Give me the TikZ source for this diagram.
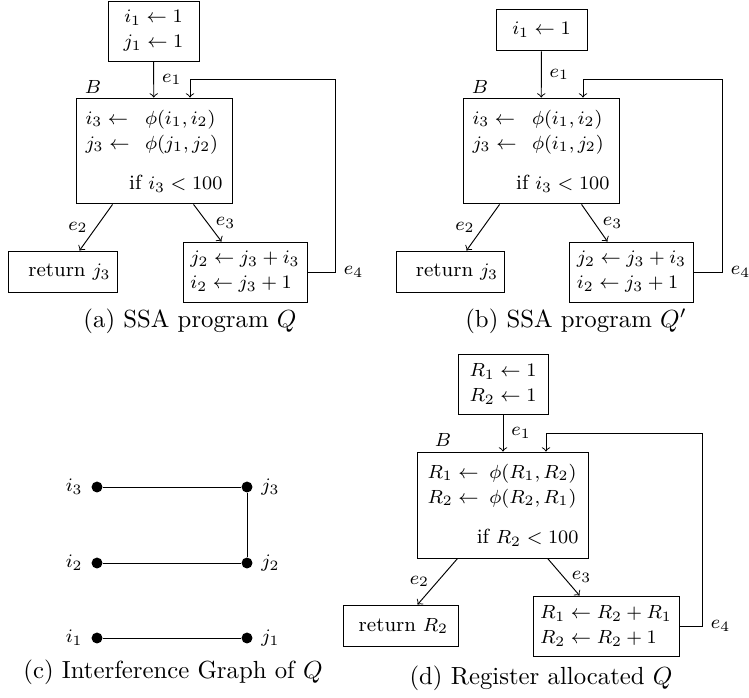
\RequirePackage{fix-cm}
\documentclass[tikz,border=0pt]{standalone}
\usetikzlibrary{calc}
\DeclareMathSizes{8.6}{8}{6}{5}
\newcommand{\PhiRow}[3][25pt]{\makebox[#1][l]{$#2\leftarrow$}$\phi(#3)$}
\newcommand{\DiagFont}{\fontsize{8.6}{10.5}\selectfont}
\tikzset{
  blockbox/.style={draw, inner sep=0pt, font=\DiagFont},
  graphdot/.style={circle, fill, inner sep=0pt, minimum size=4.6pt},
  elabel/.style={font=\DiagFont},
  subcap/.style={font=\fontsize{10.4}{12.5}\selectfont},
  every label/.style={font=\DiagFont},
}

\begin{document}
\begin{tikzpicture}[x=0.42pt, y=-0.42pt, >=to]
\useasboundingbox (0,0) rectangle (749,698);

% (a) SSA program Q
\node[blockbox, minimum width=38.2pt, minimum height=25.2pt, align=center] (a-init) at (153.5,31) {$i_1 \leftarrow 1$\\ $j_1 \leftarrow 1$};
\node[blockbox, minimum width=65.5pt, minimum height=44.5pt, text width=57.5pt, align=left] (a-blk) at (154,151)
  {\PhiRow{i_3}{i_1,i_2}\\ \PhiRow{j_3}{j_1,j_2}\\[6.5pt] \hfill if $i_3 < 100$};
\node[blockbox, minimum width=45.4pt, minimum height=17.6pt, text width=40pt, align=right] (a-ret) at (63,272) {return $j_3$};
\node[blockbox, minimum width=52.1pt, minimum height=25.2pt, align=left] (a-upd) at (245,272) {$j_2 \leftarrow j_3 + i_3$\\ $i_2 \leftarrow j_3 + 1$};
\node[elabel] (a-B) at (93,87) {$B$};
\coordinate (a-loop) at (190,79);

\path[->] (a-init) edge node[right, elabel] {$e_1$} (a-blk);
\path[->] ($(a-blk.south west)+(37,0)$) edge node[left, elabel] {$e_2$} ($(a-ret.north west)+(71,0)$);
\path[->] ($(a-blk.south west)+(118,0)$) edge node[right, elabel] {$e_3$} ($(a-upd.north west)+(39,0)$);
\draw[->] (a-upd.east) -- ++(28,0) node[right, elabel] {$e_4$} |- (a-loop) -- (a-loop |- a-blk.north);
\node[subcap] (cap-a) at (190,321) {(a) SSA program $Q$};

% (b) SSA program Q'
\node[blockbox, minimum width=38.2pt, minimum height=17.6pt] (b-init) at (541.5,30) {$i_1 \leftarrow 1$};
\node[blockbox, minimum width=65.5pt, minimum height=44.5pt, text width=57.5pt, align=left] (b-blk) at (541,151)
  {\PhiRow{i_3}{i_1,i_2}\\ \PhiRow{j_3}{i_1,j_2}\\[6.5pt] \hfill if $i_3 < 100$};
\node[blockbox, minimum width=45pt, minimum height=17.6pt, text width=40pt, align=right] (b-ret) at (450.5,272) {return $j_3$};
\node[blockbox, minimum width=51.7pt, minimum height=25.2pt, align=left] (b-upd) at (631.5,272) {$j_2 \leftarrow j_3 + i_3$\\ $i_2 \leftarrow j_3 + 1$};
\node[elabel] (b-B) at (480,87) {$B$};
\coordinate (b-loop) at (583,79);

\path[->] (b-init) edge node[right, elabel] {$e_1$} (b-blk);
\path[->] ($(b-blk.south west)+(37,0)$) edge node[left, elabel] {$e_2$} ($(b-ret.north west)+(70,0)$);
\path[->] ($(b-blk.south west)+(119,0)$) edge node[right, elabel] {$e_3$} ($(b-upd.north west)+(38,0)$);
\draw[->] (b-upd.east) -- ++(29,0) node[right, elabel] {$e_4$} |- (b-loop) -- (b-loop |- b-blk.north);
\node[subcap] (cap-b) at (576,321) {(b) SSA program $Q'$};

% (c) Interference graph of Q
\node[graphdot, label=left:$i_3$] (i3) at (97,487) {};
\node[graphdot, label=right:$j_3$] (j3) at (247,487) {};
\node[graphdot, label=left:$i_2$] (i2) at (97,563) {};
\node[graphdot, label=right:$j_2$] (j2) at (247,563) {};
\node[graphdot, label=left:$i_1$] (i1) at (97,638) {};
\node[graphdot, label=right:$j_1$] (j1) at (247,638) {};
\draw (i3) -- (j3) -- (j2) -- (i2);
\draw (i1) -- (j1);
\node[subcap] (cap-c) at (173,672) {(c) Interference Graph of $Q$};

% (d) Register allocated Q
\node[blockbox, minimum width=37.8pt, minimum height=25.2pt, align=center] (d-init) at (503,384) {$R_1 \leftarrow 1$\\ $R_2 \leftarrow 1$};
\node[blockbox, minimum width=72.2pt, minimum height=44.5pt, text width=63.4pt, align=left] (d-blk) at (503,505)
  {\PhiRow[26pt]{R_1}{R_1,R_2}\\ \PhiRow[26pt]{R_2}{R_2,R_1}\\[6.5pt] \hfill if $R_2 < 100$};
\node[blockbox, minimum width=48.3pt, minimum height=17.6pt, text width=40pt, align=right] (d-ret) at (400.5,626) {return $R_2$};
\node[blockbox, minimum width=61.3pt, minimum height=25.2pt, align=left] (d-upd) at (606,626) {$R_1 \leftarrow R_2 + R_1$\\ $R_2 \leftarrow R_2 + 1$};
\node[elabel] (d-B) at (443,440) {$B$};
\coordinate (d-loop) at (546,433);

\path[->] (d-init) edge node[right, elabel] {$e_1$} (d-blk);
\path[->] ($(d-blk.south west)+(41,0)$) edge node[left, elabel] {$e_2$} ($(d-ret.north west)+(75,0)$);
\path[->] ($(d-blk.south west)+(131,0)$) edge node[right, elabel] {$e_3$} ($(d-upd.north west)+(47,0)$);
\draw[->] (d-upd.east) -- ++(23,0) node[right, elabel] {$e_4$} |- (d-loop) -- (d-loop |- d-blk.north);
\node[subcap] (cap-d) at (541,678) {(d) Register allocated $Q$};
\end{tikzpicture}
\end{document}
